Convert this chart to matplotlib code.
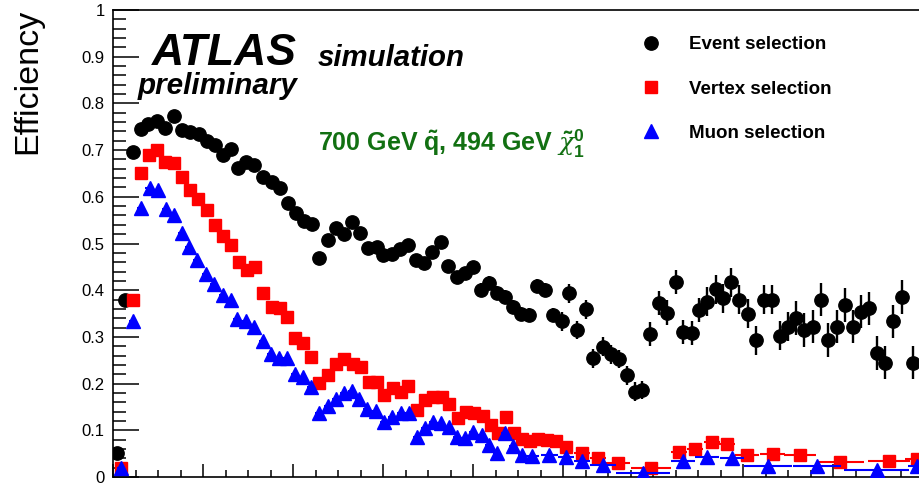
import matplotlib
matplotlib.use("Agg")
import matplotlib.pyplot as plt
from matplotlib.lines import Line2D
from matplotlib.ticker import MultipleLocator, FixedLocator, FixedFormatter

plt.rcParams['font.family'] = ['Liberation Sans', 'DejaVu Sans']
plt.rcParams['mathtext.fontset'] = 'custom'
plt.rcParams['mathtext.rm'] = 'Liberation Sans:bold'
plt.rcParams['mathtext.it'] = 'DejaVu Serif:italic'

# event selection efficiency
black_x = [0.044, 0.133, 0.217, 0.306, 0.394, 0.489, 0.578, 0.678, 0.767, 0.856,
           0.950, 1.044, 1.133, 1.222, 1.311, 1.389, 1.478, 1.567, 1.667, 1.767,
           1.856, 1.944, 2.033, 2.122, 2.211, 2.294, 2.389, 2.478, 2.567, 2.656,
           2.744, 2.833, 2.933, 3.000, 3.100, 3.189, 3.278, 3.367, 3.456, 3.544,
           3.644, 3.722, 3.822, 3.911, 4.000, 4.089, 4.178, 4.267, 4.356, 4.444,
           4.533, 4.622, 4.711, 4.800, 4.889, 4.989, 5.067, 5.156, 5.256, 5.333,
           5.444, 5.533, 5.622, 5.706, 5.800, 5.883, 5.972, 6.067, 6.156, 6.256,
           6.333, 6.433, 6.511, 6.600, 6.700, 6.778, 6.867, 6.956, 7.056, 7.144,
           7.233, 7.322, 7.411, 7.500, 7.589, 7.678, 7.778, 7.867, 7.944, 8.044,
           8.133, 8.222, 8.311, 8.400, 8.489, 8.578, 8.667, 8.767, 8.889]
black_y = [0.051, 0.379, 0.695, 0.745, 0.756, 0.763, 0.747, 0.772, 0.744, 0.739,
           0.734, 0.720, 0.711, 0.690, 0.702, 0.661, 0.675, 0.668, 0.643, 0.632,
           0.618, 0.586, 0.565, 0.549, 0.542, 0.470, 0.507, 0.533, 0.520, 0.547,
           0.522, 0.490, 0.493, 0.475, 0.478, 0.488, 0.497, 0.465, 0.459, 0.482,
           0.504, 0.452, 0.429, 0.437, 0.449, 0.400, 0.416, 0.393, 0.385, 0.365,
           0.350, 0.347, 0.409, 0.400, 0.347, 0.333, 0.393, 0.315, 0.359, 0.254,
           0.279, 0.263, 0.253, 0.218, 0.183, 0.186, 0.306, 0.373, 0.352, 0.417,
           0.311, 0.309, 0.358, 0.375, 0.402, 0.383, 0.417, 0.380, 0.350, 0.293,
           0.380, 0.380, 0.302, 0.322, 0.340, 0.315, 0.322, 0.380, 0.293, 0.322,
           0.368, 0.322, 0.354, 0.361, 0.266, 0.245, 0.333, 0.386, 0.245]
black_err = [0.006, 0.006, 0.006, 0.006, 0.006, 0.006, 0.006, 0.006, 0.006, 0.006,
             0.006, 0.006, 0.006, 0.006, 0.006, 0.006, 0.006, 0.006, 0.006, 0.006,
             0.006, 0.006, 0.006, 0.006, 0.006, 0.006, 0.006, 0.006, 0.006, 0.006,
             0.006, 0.006, 0.006, 0.006, 0.006, 0.006, 0.006, 0.006, 0.006, 0.006,
             0.006, 0.006, 0.006, 0.006, 0.006, 0.015, 0.015, 0.015, 0.015, 0.015,
             0.015, 0.015, 0.015, 0.015, 0.015, 0.020, 0.020, 0.020, 0.020, 0.020,
             0.020, 0.020, 0.020, 0.020, 0.020, 0.020, 0.026, 0.026, 0.026, 0.026,
             0.026, 0.026, 0.026, 0.031, 0.031, 0.031, 0.031, 0.031, 0.031, 0.031,
             0.031, 0.031, 0.031, 0.031, 0.036, 0.036, 0.036, 0.036, 0.036, 0.036,
             0.036, 0.036, 0.036, 0.036, 0.036, 0.036, 0.036, 0.036, 0.036]

# vertex selection efficiency
red_x = [0.089, 0.222, 0.311, 0.403, 0.492, 0.578, 0.678, 0.763, 0.856, 0.948,
         1.041, 1.133, 1.226, 1.311, 1.403, 1.486, 1.578, 1.670, 1.763, 1.856,
         1.937, 2.022, 2.108, 2.197, 2.292, 2.386, 2.478, 2.572, 2.663, 2.752,
         2.848, 2.930, 3.014, 3.108, 3.197, 3.281, 3.374, 3.467, 3.559, 3.652,
         3.737, 3.830, 3.922, 4.011, 4.108, 4.197, 4.281, 4.367, 4.456, 4.548,
         4.633, 4.726, 4.826, 4.922, 5.033, 5.208, 5.389, 5.611, 5.974, 6.289,
         6.470, 6.656, 6.826, 7.048, 7.328, 7.633, 8.081, 8.622, 8.928]
red_y = [0.020, 0.379, 0.650, 0.690, 0.700, 0.675, 0.672, 0.642, 0.615, 0.595,
         0.572, 0.540, 0.515, 0.497, 0.461, 0.443, 0.450, 0.394, 0.365, 0.361,
         0.343, 0.297, 0.286, 0.258, 0.201, 0.218, 0.243, 0.252, 0.243, 0.236,
         0.204, 0.204, 0.176, 0.190, 0.181, 0.195, 0.143, 0.165, 0.171, 0.171,
         0.156, 0.126, 0.140, 0.136, 0.131, 0.111, 0.094, 0.128, 0.094, 0.081,
         0.078, 0.081, 0.079, 0.078, 0.065, 0.051, 0.040, 0.030, 0.019, 0.053,
         0.060, 0.076, 0.071, 0.048, 0.049, 0.047, 0.033, 0.034, 0.038]
red_binw = [0.045, 0.045, 0.045, 0.045, 0.045, 0.045, 0.045, 0.045, 0.045, 0.045,
            0.045, 0.045, 0.045, 0.045, 0.045, 0.045, 0.045, 0.045, 0.045, 0.045,
            0.045, 0.045, 0.045, 0.045, 0.045, 0.045, 0.045, 0.045, 0.045, 0.045,
            0.045, 0.045, 0.045, 0.045, 0.045, 0.045, 0.045, 0.045, 0.045, 0.045,
            0.045, 0.045, 0.045, 0.045, 0.045, 0.045, 0.045, 0.045, 0.045, 0.045,
            0.045, 0.045, 0.045, 0.045, 0.067, 0.089, 0.089, 0.133, 0.222, 0.089,
            0.089, 0.089, 0.089, 0.133, 0.144, 0.178, 0.267, 0.233, 0.133]

# muon selection efficiency
blue_x = [0.089, 0.222, 0.311, 0.406, 0.500, 0.589, 0.678, 0.763, 0.848, 0.937,
          1.033, 1.122, 1.219, 1.311, 1.381, 1.474, 1.567, 1.663, 1.756, 1.848,
          1.937, 2.022, 2.108, 2.197, 2.292, 2.386, 2.478, 2.567, 2.652, 2.737,
          2.826, 2.919, 3.011, 3.103, 3.197, 3.289, 3.374, 3.467, 3.559, 3.644,
          3.733, 3.819, 3.911, 4.003, 4.097, 4.181, 4.263, 4.356, 4.444, 4.541,
          4.656, 4.850, 5.033, 5.211, 5.441, 5.886, 6.333, 6.600, 6.874, 7.281,
          7.826, 8.485, 8.930]
blue_y = [0.020, 0.335, 0.577, 0.619, 0.615, 0.573, 0.561, 0.522, 0.493, 0.465,
          0.435, 0.413, 0.390, 0.378, 0.338, 0.333, 0.322, 0.292, 0.263, 0.254,
          0.254, 0.221, 0.215, 0.192, 0.138, 0.152, 0.166, 0.180, 0.185, 0.166,
          0.145, 0.142, 0.118, 0.129, 0.138, 0.138, 0.086, 0.104, 0.118, 0.116,
          0.108, 0.086, 0.083, 0.097, 0.090, 0.069, 0.051, 0.094, 0.067, 0.047,
          0.044, 0.047, 0.042, 0.034, 0.025, 0.009, 0.034, 0.042, 0.040, 0.024,
          0.024, 0.016, 0.024]
blue_binw = [0.045, 0.045, 0.045, 0.045, 0.045, 0.045, 0.045, 0.045, 0.045, 0.045,
             0.045, 0.045, 0.045, 0.045, 0.045, 0.045, 0.045, 0.045, 0.045, 0.045,
             0.045, 0.045, 0.045, 0.045, 0.045, 0.045, 0.045, 0.045, 0.045, 0.045,
             0.045, 0.045, 0.045, 0.045, 0.045, 0.045, 0.045, 0.045, 0.045, 0.045,
             0.045, 0.045, 0.045, 0.045, 0.045, 0.045, 0.045, 0.045, 0.045, 0.045,
             0.078, 0.100, 0.089, 0.089, 0.144, 0.300, 0.133, 0.133, 0.133, 0.267,
             0.267, 0.360, 0.100]

y_ticks = [0, 0.1, 0.2, 0.3, 0.4, 0.5, 0.6, 0.7, 0.8, 0.9, 1]
y_ticklabels = ['0', '0.1', '0.2', '0.3', '0.4', '0.5', '0.6', '0.7', '0.8', '0.9', '1']
labels = ['Event selection', 'Vertex selection', 'Muon selection']

fig = plt.figure(figsize=(9.2, 4.83), dpi=100)
ax = fig.add_axes([113 / 920, 6 / 483, 900 / 920, 467 / 483])

ax.errorbar(black_x, black_y, yerr=black_err, fmt='o', color='black', ms=9.6,
            elinewidth=1.7, capsize=0, zorder=3)
ax.errorbar(red_x, red_y, xerr=red_binw, fmt='s', color='#ff0000', ms=9.0,
            elinewidth=1.5, capsize=0, zorder=4)
ax.errorbar(blue_x, blue_y, xerr=blue_binw, fmt='^', color='#0000ff', ms=9.4,
            elinewidth=1.5, capsize=0, zorder=5)

ax.set_xlim(0, 10)
ax.set_ylim(0, 1)

for side in ['top', 'bottom', 'left', 'right']:
    ax.spines[side].set_linewidth(1.2)

ax.yaxis.set_major_locator(FixedLocator(y_ticks))
ax.yaxis.set_major_formatter(FixedFormatter(y_ticklabels))
ax.yaxis.set_minor_locator(MultipleLocator(0.02))
ax.xaxis.set_major_locator(MultipleLocator(1))
ax.xaxis.set_minor_locator(MultipleLocator(0.25))
ax.tick_params(axis='y', which='major', direction='in', length=19, width=1.1,
               labelsize=12, pad=6)
ax.tick_params(axis='y', which='minor', direction='in', length=9, width=1.1)
ax.tick_params(axis='x', which='major', direction='in', length=9.5, width=1.1,
               labelbottom=False)
ax.tick_params(axis='x', which='minor', direction='in', length=5, width=1.1)

fig.text(28 / 920, 1 - 9 / 483, 'Efficiency', rotation=90, ha='center', va='top',
         fontsize=24.5)

ax.text(0.0433, 0.882, 'ATLAS', transform=ax.transAxes, fontsize=32,
        fontweight='bold', fontstyle='italic', va='baseline')
ax.text(0.0278, 0.820, 'preliminary', transform=ax.transAxes, fontsize=21.3,
        fontweight='bold', fontstyle='italic', va='baseline')
ax.text(0.2278, 0.880, 'simulation', transform=ax.transAxes, fontsize=21.2,
        fontweight='bold', fontstyle='italic', va='baseline')
ax.text(0.2278, 0.698, r'700 GeV $\tilde{\mathrm{q}}$, 494 GeV $\tilde{\chi}^{0}_{1}$',
        transform=ax.transAxes, fontsize=18, fontweight='bold', color='#127012',
        va='baseline')

handles = [Line2D([], [], ls='none', marker='o', color='black', ms=9.6),
           Line2D([], [], ls='none', marker='s', color='#ff0000', ms=9.0),
           Line2D([], [], ls='none', marker='^', color='#0000ff', ms=9.4)]
leg = ax.legend(handles, labels, loc='upper left', bbox_to_anchor=(0.587, 0.944),
                frameon=False, borderpad=0, borderaxespad=0, handlelength=1.0,
                handletextpad=1.53, labelspacing=1.45,
                prop={'size': 13.5, 'weight': 'bold'})

fig.savefig('out.png', dpi=100)
